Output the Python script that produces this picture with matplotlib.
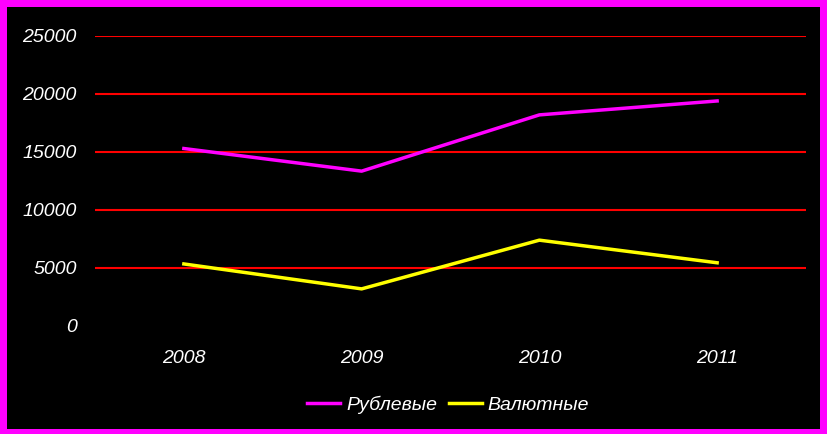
import matplotlib
matplotlib.use('Agg')
import matplotlib.pyplot as plt
from matplotlib.patches import Rectangle

# Data.
years = ['2008', '2009', '2010', '2011']
rub = [15300, 13350, 18200, 19400]
val = [5350, 3200, 7400, 5450]
yticks = [0, 5000, 10000, 15000, 20000, 25000]

W, H = 827, 434
fig = plt.figure(figsize=(W / 100, H / 100), dpi=100, facecolor='#ff00ff')

# Black panel inside the magenta frame.
fig.patches.append(Rectangle((7 / W, 5 / H), (W - 14) / W, (H - 12) / H,
                             transform=fig.transFigure, facecolor='black',
                             edgecolor='none', zorder=-10))

ax = fig.add_axes([95 / W, 1 - 326 / H, 711 / W, 290 / H])
ax.patch.set_visible(False)

x = range(len(years))
ax.plot(x, rub, color='#ff00ff', lw=2.5, label='Рублевые', zorder=3)
ax.plot(x, val, color='#ffff00', lw=2.5, label='Валютные', zorder=3)

ax.set_xlim(-0.5, len(years) - 0.5)
ax.set_ylim(0, 25000)
ax.set_xticks(list(x))
ax.set_xticklabels(years)
ax.set_yticks(yticks)
ax.set_yticklabels([str(v) for v in yticks])

# Red gridlines, skip the one at zero.
for v in yticks[1:]:
    ax.axhline(v, color='#ff0000', lw=1.5, zorder=1)

for spine in ax.spines.values():
    spine.set_visible(False)
ax.tick_params(length=0, colors='white', labelsize=14)
ax.tick_params(axis='y', pad=13)
ax.tick_params(axis='x', pad=17)
for lbl in ax.get_xticklabels() + ax.get_yticklabels():
    lbl.set_fontfamily('Liberation Sans')
    lbl.set_fontstyle('italic')

leg = ax.legend(loc='center', bbox_to_anchor=(448 / W, 1 - 405 / H), bbox_transform=fig.transFigure,
                ncol=2, frameon=False, handlelength=1.7, handletextpad=0.3, columnspacing=0.6,
                borderaxespad=0, borderpad=0,
                prop={'family': 'Liberation Sans', 'style': 'italic', 'size': 14})
for t in leg.get_texts():
    t.set_color('white')

fig.savefig('out.png', dpi=100, facecolor=fig.get_facecolor())
